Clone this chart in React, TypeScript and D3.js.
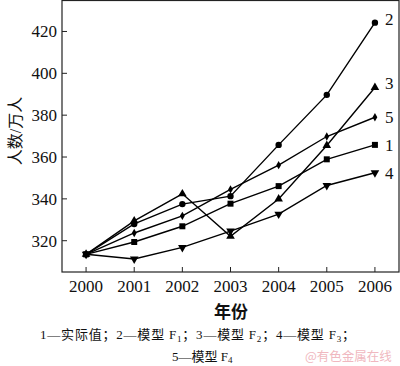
import React from "react";
import * as d3 from "d3";

const years = [2000, 2001, 2002, 2003, 2004, 2005, 2006];
const actual = [313.5, 319.4, 326.9, 337.7, 346.1, 358.9, 365.8];
const modelF1 = [313.5, 328.0, 337.5, 341.3, 365.8, 389.7, 424.2];
const modelF2 = [313.5, 329.5, 342.4, 322.1, 339.9, 365.5, 393.2];
const modelF3 = [313.5, 311.3, 316.8, 324.6, 332.7, 346.4, 352.5];
const modelF4 = [313.5, 323.7, 331.9, 344.5, 356.1, 369.8, 379.0];
const yTicks = [320, 340, 360, 380, 400, 420];

const series = [
  { id: "1", values: actual, marker: "square" },
  { id: "2", values: modelF1, marker: "circle" },
  { id: "3", values: modelF2, marker: "triUp" },
  { id: "4", values: modelF3, marker: "triDown" },
  { id: "5", values: modelF4, marker: "diamond" },
];

const W = 400, H = 366;
const left = 62, right = 399, top = 0.5, bottom = 272;
const serif = "'Liberation Serif', 'Noto Sans CJK SC', serif";

function Marker({ type, x, y }: { type: string; x: number; y: number }) {
  const sym =
    type === "square" ? d3.symbol(d3.symbolSquare, 36) :
    type === "circle" ? d3.symbol(d3.symbolCircle, 32) :
    type === "diamond" ? d3.symbol(d3.symbolDiamond, 20) :
    d3.symbol(d3.symbolTriangle, 32);
  const rot = type === "triDown" ? 180 : 0;
  return <path d={sym() as string} transform={`translate(${x},${y}) rotate(${rot})`} fill="#000" />;
}

export default function App() {
  const x = d3.scaleLinear().domain([1999.5, 2006.5]).range([left, right]);
  const y = d3.scaleLinear().domain([305.05, 434.8]).range([bottom, top]);
  const line = d3.line<number>().x((_, i) => x(years[i])).y((v) => y(v));

  return (
    <svg width={W} height={H} style={{ position: "absolute", left: 0, top: 0, background: "#fff" }}>
      <rect x={0} y={0} width={W} height={H} fill="#fff" />
      {/* frame */}
      <rect x={left} y={top} width={right - left} height={bottom - top} fill="none" stroke="#222" strokeWidth={1.2} />
      {/* y ticks */}
      {yTicks.map((t) => (
        <g key={t}>
          <line x1={left} x2={left + 5} y1={y(t)} y2={y(t)} stroke="#222" strokeWidth={1} />
          <text x={57} y={y(t)} dy="0.35em" textAnchor="end" fontFamily={serif} fontSize={17} fill="#111">{t}</text>
        </g>
      ))}
      {/* x ticks */}
      {years.map((t) => (
        <g key={t}>
          <line x1={x(t)} x2={x(t)} y1={bottom} y2={bottom - 5} stroke="#222" strokeWidth={1} />
          <text x={x(t)} y={292} textAnchor="middle" fontFamily={serif} fontSize={17} fill="#111">{t}</text>
        </g>
      ))}
      {/* lines */}
      {series.map((s) => (
        <g key={s.id}>
          <path d={line(s.values) as string} fill="none" stroke="#000" strokeWidth={1.4} />
          {s.values.map((v, i) => (
            <Marker key={i} type={s.marker} x={x(years[i])} y={y(v)} />
          ))}
        </g>
      ))}
      {/* end labels */}
      {series.map((s) => {
        const off: Record<string, number> = { "1": 0, "2": -4, "3": -4, "4": 0, "5": 0 };
        return (
          <text key={s.id} x={385} y={y(s.values[6]) + off[s.id]} dy="0.35em" fontFamily={serif} fontSize={17} fill="#111">{s.id}</text>
        );
      })}
      {/* y label */}
      <text transform={`translate(15,131) rotate(-90)`} textAnchor="middle" dy="0.35em" fontFamily={serif} fontSize={16} fill="#111">人数/万人</text>
      {/* x label */}
      <text x={231} y={312} dy="0.35em" textAnchor="middle" fontFamily={serif} fontSize={17} fontWeight="bold" fill="#111">年份</text>
      {/* legend */}
      <text x={40} y={334} dy="0.35em" fontFamily={serif} fontSize={13} fill="#111" textLength={315}>
        1—实际值；2—模型 F<tspan fontSize={9} dy="3">1</tspan><tspan dy="-3">；3—模型  F</tspan><tspan fontSize={9} dy="3">2</tspan><tspan dy="-3">；4—模型 F</tspan><tspan fontSize={9} dy="3">3</tspan><tspan dy="-3">；</tspan>
      </text>
      <text x={172} y={356} dy="0.35em" fontFamily={serif} fontSize={13} fill="#111">
        5—模型 F<tspan fontSize={9} dy="2">4</tspan>
      </text>
      <text x={305} y={357} dy="0.35em" fontFamily="'Noto Sans CJK SC', sans-serif" fontSize={12.5} fill="#f0b8c0">@有色金属在线</text>
    </svg>
  );
}
